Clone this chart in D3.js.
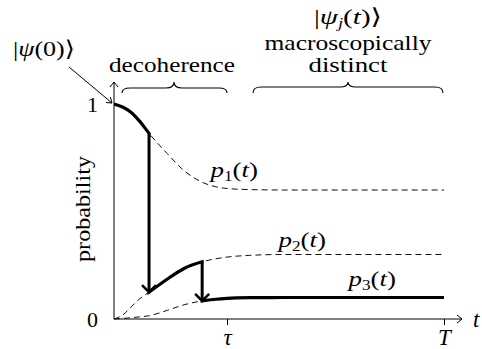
<!DOCTYPE html>
<html><head><meta charset="utf-8">
<script src="https://cdn.jsdelivr.net/npm/d3@7"></script>
<style>
body{margin:0;background:#fff}
svg{display:block}
svg text{font-family:"Liberation Serif","Tinos","DejaVu Serif",serif !important;fill:#000}
</style>
</head><body>
<svg id="chart" width="482" height="349"></svg>
<script>
// time samples (in units of tau) and the three branch probabilities
const times = [0, 0.08, 0.15, 0.23, 0.31, 0.47, 0.62, 0.78, 0.9, 1.0, 1.2, 1.5, 2.0, 2.92];
const p1 = [1.0, 0.985, 0.962, 0.918, 0.864, 0.77, 0.69, 0.636, 0.615, 0.607, 0.602, 0.6, 0.6, 0.6];
const p2 = [0, 0.02, 0.055, 0.095, 0.125, 0.185, 0.235, 0.266, 0.28, 0.288, 0.296, 0.3, 0.3, 0.3];
const p3 = [0, 0.003, 0.006, 0.01, 0.015, 0.04, 0.066, 0.084, 0.092, 0.096, 0.099, 0.1, 0.1, 0.1];
// moments where the trajectory jumps to the next branch
const jumpTimes = [0.31, 0.78];
// axis ticks
const xTickValues = [1, 2.92];
const xTickLabels = ["τ", "T"];
const yTickValues = [0, 1];
const yTickLabels = ["0", "1"];

const svg = d3.select("#chart");
const x = d3.scaleLinear().domain([0, 2.92]).range([114, 444]);
const y = d3.scaleLinear().domain([0, 1]).range([319, 104]);
const branches = [p1, p2, p3];
const SERIF = '"Liberation Serif","Tinos","DejaVu Serif",serif';

// stretch a text horizontally to a given width around its anchor
function fit(sel, w, anchor) {
  const bb = sel.node().getBBox();
  const sx = w / bb.width;
  const cx = anchor === "middle" ? bb.x + bb.width / 2 : bb.x;
  sel.attr("transform", `translate(${cx},0) scale(${sx},1) translate(${-cx},0)`);
  return sel;
}
function openHead(g, tx, ty, dir, len, half, width) {
  const [dx, dy] = dir, nx = -dy, ny = dx;
  g.append("path")
    .attr("d", `M${tx - dx*len + nx*half},${ty - dy*len + ny*half}L${tx},${ty}L${tx - dx*len - nx*half},${ty - dy*len - ny*half}`)
    .attr("fill", "none").attr("stroke", "#000").attr("stroke-width", width)
    .attr("stroke-linejoin", "miter");
}

// axes
const xAxis = svg.append("g").attr("transform", `translate(0,${y(0)})`)
  .call(d3.axisBottom(x).tickValues(xTickValues).tickFormat((d, i) => xTickLabels[i]).tickSize(6).tickSizeOuter(0));
xAxis.attr("font-family", SERIF);
xAxis.select(".domain").remove();
xAxis.selectAll(".tick line").attr("stroke", "#000").attr("stroke-width", 1);
xAxis.selectAll(".tick text").attr("y", 26).attr("dy", 0)
  .style("font-style", "italic").style("font-size", "23px");

const yAxis = svg.append("g").attr("transform", `translate(${x(0)},0)`)
  .call(d3.axisLeft(y).tickValues(yTickValues).tickFormat((d, i) => yTickLabels[i]).tickSize(0).tickPadding(16));
yAxis.attr("font-family", SERIF);
yAxis.select(".domain").remove();
yAxis.selectAll(".tick text").attr("dy", "0.34em").style("font-size", "22px");

const axes = svg.append("g");
axes.append("line").attr("x1", x(0)).attr("y1", y(0)).attr("x2", 462).attr("y2", y(0))
  .attr("stroke", "#000").attr("stroke-width", 1);
openHead(axes, 462, y(0), [1, 0], 5, 4, 1);
axes.append("line").attr("x1", x(0)).attr("y1", y(0)).attr("x2", x(0)).attr("y2", 82)
  .attr("stroke", "#000").attr("stroke-width", 1);
openHead(axes, x(0), 82, [0, -1], 5, 4, 1);

// dashed branch curves
const line = d3.line().x((d, i) => x(times[i])).y(d => y(d)).curve(d3.curveMonotoneX);
svg.append("g").selectAll("path").data(branches).join("path")
  .attr("d", line).attr("fill", "none").attr("stroke", "#111")
  .attr("stroke-width", 1).attr("stroke-dasharray", "6,4");

// thick trajectory: each branch followed between consecutive jumps
const bounds = [0, ...jumpTimes, 2.92];
const defs = svg.append("defs");
branches.forEach((b, k) => {
  const x0 = x(bounds[k]) - (k ? 1.5 : 0), x1 = x(bounds[k + 1]) + (k < 2 ? 1.5 : 0);
  defs.append("clipPath").attr("id", "seg" + k).append("rect")
    .attr("x", x0).attr("y", 0).attr("width", x1 - x0).attr("height", 349);
  svg.append("path").attr("d", line(b)).attr("fill", "none").attr("stroke", "#000")
    .attr("stroke-width", 3.2).attr("clip-path", `url(#seg${k})`);
});

// jump arrows
const at = (arr, t) => arr[times.indexOf(t)];
jumpTimes.forEach((t, k) => {
  const xs = x(t), ya = y(at(branches[k], t)), yb = y(at(branches[k + 1], t));
  const g = svg.append("g");
  g.append("line").attr("x1", xs).attr("y1", ya).attr("x2", xs).attr("y2", yb - 1)
    .attr("stroke", "#000").attr("stroke-width", 3);
  openHead(g, xs, yb, [0, 1], 7, 7, 2.6);
});

// pointer to the initial state
const ptr = svg.append("g");
ptr.append("line").attr("x1", 69).attr("y1", 67).attr("x2", x(0) - 2).attr("y2", y(1) - 1)
  .attr("stroke", "#000").attr("stroke-width", 1);
openHead(ptr, x(0) - 2, y(1) - 1, [0.77, 0.64], 5, 3.5, 1);

// braces
function brace(x1, x2, xm, yTip, yMid, yEnd) {
  const q = 8;
  return `M${x1},${yEnd}Q${x1},${yMid} ${x1 + q},${yMid}L${xm - q},${yMid}Q${xm},${yMid} ${xm},${yTip}` +
         `Q${xm},${yMid} ${xm + q},${yMid}L${x2 - q},${yMid}Q${x2},${yMid} ${x2},${yEnd}`;
}
svg.append("path").attr("d", brace(122, 227, 174, 82, 88, 93))
  .attr("fill", "none").attr("stroke", "#000").attr("stroke-width", 1.1);
svg.append("path").attr("d", brace(253, 443, 348, 82, 87, 93))
  .attr("fill", "none").attr("stroke", "#000").attr("stroke-width", 1.1);

// text labels
function math(parent, px, py, parts, anchor) {
  const t = parent.append("text").attr("x", px).attr("y", py).attr("text-anchor", anchor || "start")
    .style("font-size", "22px");
  parts.forEach(p => {
    const s = t.append("tspan").text(p.s);
    if (p.i) s.style("font-style", "italic");
    if (p.sub) s.style("font-size", "14px").attr("dy", 4);
    if (p.up) s.attr("dy", -4);
  });
  return t;
}
const lab = svg.append("g").attr("font-family", SERIF);
fit(lab.append("text").attr("x", 172).attr("y", 72.5).attr("text-anchor", "middle")
  .style("font-size", "22px").text("decoherence"), 126, "middle");
fit(lab.append("text").attr("x", 348).attr("y", 50).attr("text-anchor", "middle")
  .style("font-size", "22px").text("macroscopically"), 167, "middle");
fit(lab.append("text").attr("x", 348).attr("y", 72).attr("text-anchor", "middle")
  .style("font-size", "22px").text("distinct"), 79, "middle");

fit(math(lab, 13, 56, [{s: "|"}, {s: "ψ", i: 1}, {s: "(0)⟩"}]), 62, "start");
fit(math(lab, 348, 24, [{s: "|"}, {s: "ψ", i: 1}, {s: "j", i: 1, sub: 1}, {s: "(", up: 1}, {s: "t", i: 1}, {s: ")⟩"}], "middle"), 68, "middle");

const pLab = [[210, 177, "1"], [278, 247, "2"], [348, 286, "3"]];
pLab.forEach(([px, py, n]) => {
  fit(math(lab, px, py, [{s: "p", i: 1}, {s: n, sub: 1}, {s: "(", up: 1}, {s: "t", i: 1}, {s: ")"}]), 50, "start");
});
lab.append("text").attr("x", 473).attr("y", 327).style("font-size", "23px").style("font-style", "italic").text("t");

const yl = lab.append("g").attr("transform", "translate(90,209) rotate(-90)");
fit(yl.append("text").attr("x", 0).attr("y", 0).attr("text-anchor", "middle")
  .style("font-size", "22px").text("probability"), 106, "middle");
</script>
</body></html>
